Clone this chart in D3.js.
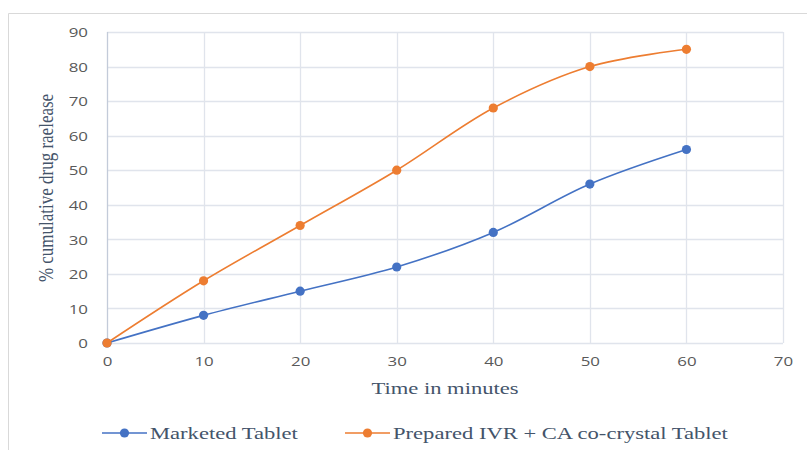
<!DOCTYPE html>
<html>
<head>
<meta charset="utf-8">
<script src="https://cdn.jsdelivr.net/npm/d3@7"></script>
<style>
  html, body { margin: 0; padding: 0; background: #fff; }
  svg { display: block; }
</style>
</head>
<body>
<svg id="chart" width="807" height="450"></svg>
<script>
// Dissolution profile data
const times = [0, 10, 20, 30, 40, 50, 60];
const marketed = [0, 8, 15, 22, 32, 46, 56];
const prepared = [0, 18, 34, 50, 68, 80, 85];
const xTicks = [0, 10, 20, 30, 40, 50, 60, 70];
const yTicks = [0, 10, 20, 30, 40, 50, 60, 70, 80, 90];
const seriesNames = ["Marketed Tablet", "Prepared IVR + CA co-crystal Tablet"];
const seriesColors = ["#4472C4", "#ED7D31"];

const svg = d3.select("#chart");
const tickFont = "'Open Sans', 'DejaVu Sans', sans-serif";
const serifFont = "'Liberation Serif', 'Times New Roman', serif";
const textColor = "#44546a";
const wide = 1.37;      // horizontal stretch of the serif captions
const tickWide = 1.25;  // horizontal stretch of the tick labels

// Outer chart frame
svg.append("path")
  .attr("d", "M8.5,450 L8.5,13.5 L807,13.5")
  .attr("fill", "none")
  .attr("stroke", "#d9d9d9")
  .attr("stroke-width", 1);

const x = d3.scaleLinear().domain([0, 70]).range([107, 783]);
const y = d3.scaleLinear().domain([0, 90]).range([343, 32]);

// Gridlines
const grid = svg.append("g");
grid.selectAll(".hg").data(yTicks).join("line")
  .attr("x1", x(0)).attr("x2", x(70))
  .attr("y1", d => Math.round(y(d)) + 0.5).attr("y2", d => Math.round(y(d)) + 0.5)
  .attr("stroke", "#e0e4ec").attr("stroke-width", 1.3);
grid.selectAll(".vg").data(xTicks.slice(1)).join("line")
  .attr("y1", y(0)).attr("y2", y(90))
  .attr("x1", d => Math.round(x(d)) + 0.5).attr("x2", d => Math.round(x(d)) + 0.5)
  .attr("stroke", "#e0e4ec").attr("stroke-width", 1.3);

// Vertical value axis line
svg.append("line")
  .attr("x1", x(0) + 0.5).attr("x2", x(0) + 0.5)
  .attr("y1", y(0)).attr("y2", y(90))
  .attr("stroke", "#c3cbd9").attr("stroke-width", 1.3);

// Axes (labels only)
const yAxis = svg.append("g")
  .attr("transform", `translate(${x(0) - 19},0)`)
  .call(d3.axisLeft(y).tickValues(yTicks).tickSize(0).tickPadding(0));
yAxis.select(".domain").remove();
yAxis.selectAll("text")
  .attr("x", 0)
  .attr("transform", `scale(${tickWide},1)`)
  .attr("font-family", tickFont).attr("font-size", 13.5)
  .attr("fill", "#595959").attr("dy", "0.35em");

const xAxis = svg.append("g")
  .attr("transform", `translate(0,${y(0) + 13})`)
  .call(d3.axisBottom(x).tickValues(xTicks).tickSize(0).tickPadding(0));
xAxis.select(".domain").remove();
xAxis.selectAll("text")
  .attr("transform", `scale(${tickWide},1)`)
  .attr("font-family", tickFont).attr("font-size", 13.5)
  .attr("fill", "#595959").attr("dy", "0.71em");

// Axis titles
svg.append("text")
  .attr("transform", `translate(445,394) scale(${wide},1)`)
  .attr("text-anchor", "middle")
  .attr("font-family", serifFont).attr("font-size", 16.5)
  .attr("fill", textColor)
  .text("Time in minutes");

svg.append("text")
  .attr("transform", `translate(53,188) scale(1.2,1) rotate(-90)`)
  .attr("text-anchor", "middle")
  .attr("font-family", serifFont).attr("font-size", 17)
  .attr("fill", textColor)
  .text("% cumulative drug raelease");

// Series
const line = d3.line()
  .x((d, i) => x(times[i]))
  .y(d => y(d))
  .curve(d3.curveCatmullRom.alpha(0.5));

[marketed, prepared].forEach((vals, k) => {
  const g = svg.append("g");
  g.append("path")
    .datum(vals)
    .attr("d", line)
    .attr("fill", "none")
    .attr("stroke", seriesColors[k])
    .attr("stroke-width", 1.6);
  g.selectAll("circle").data(vals).join("circle")
    .attr("cx", (d, i) => x(times[i]))
    .attr("cy", d => y(d))
    .attr("r", 4.6)
    .attr("fill", seriesColors[k]);
});

// Legend
const legendItems = [
  { x0: 102, tx: 150 },
  { x0: 345, tx: 393 }
];
legendItems.forEach((item, k) => {
  const ly = 433;
  svg.append("line")
    .attr("x1", item.x0).attr("x2", item.x0 + 45)
    .attr("y1", ly).attr("y2", ly)
    .attr("stroke", seriesColors[k]).attr("stroke-width", 1.6);
  svg.append("circle")
    .attr("cx", item.x0 + 22.5).attr("cy", ly).attr("r", 4.6)
    .attr("fill", seriesColors[k]);
  svg.append("text")
    .attr("transform", `translate(${item.tx},439) scale(${wide},1)`)
    .attr("font-family", serifFont).attr("font-size", 16.5)
    .attr("fill", textColor)
    .text(seriesNames[k]);
});
</script>
</body>
</html>
